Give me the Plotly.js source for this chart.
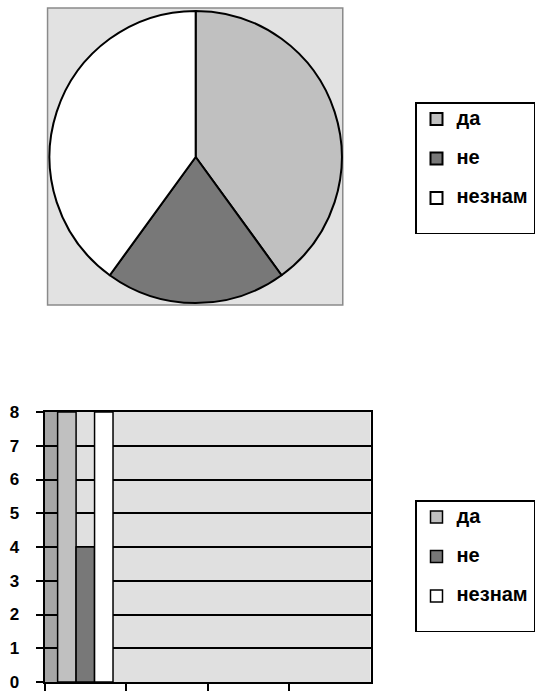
<!DOCTYPE html>
<html>
<head>
<meta charset="utf-8">
<script src="https://cdn.plot.ly/plotly-3.0.1.min.js"></script>
<style>
html,body{margin:0;padding:0;background:#fff;}
#chart{width:535px;height:693px;}
</style>
</head>
<body>
<div id="chart"></div>
<script>
// ---- data ----
const categories = ['да', 'не', 'незнам'];
const pieValues = [8, 4, 8];
const barValues = [8, 4, 8];
const xGroups = ['1', '2', '3', '4'];   // category slots on the bar chart x axis (no labels shown)
const yTicks = [0, 1, 2, 3, 4, 5, 6, 7, 8];

// ---- styles ----
const colors = ['#c0c0c0', '#787878', '#ffffff'];
const FONT = 'Liberation Sans, Arial, sans-serif';
const W = 535, H = 693;
const px = v => v / W;
const py = v => 1 - v / H;
const legendLabel = s => '<span style="font-size:20px">' + s + '</span><br> ';

const pie = {
  type: 'pie',
  labels: categories.map(legendLabel),
  values: pieValues,
  sort: false,
  direction: 'clockwise',
  rotation: 0,
  textinfo: 'none',
  hoverinfo: 'none',
  marker: {colors: colors, line: {color: '#000', width: 2}},
  domain: {x: [px(50), px(345)], y: [py(304.5), py(9.5)]},
  legend: 'legend'
};

const bars = categories.map((c, i) => ({
  type: 'bar',
  name: legendLabel(c),
  x: [xGroups[0]],
  y: [barValues[i]],
  marker: {color: colors[i], line: {color: '#000', width: 1.5}},
  hoverinfo: 'none',
  legend: 'legend2'
}));

const legendStyle = {
  xanchor: 'left', yanchor: 'top',
  bgcolor: '#ffffff', bordercolor: '#000', borderwidth: 1.5,
  font: {family: FONT, size: 14, color: '#000', weight: 'bold'},
  valign: 'top', traceorder: 'normal'
};

const layout = {
  width: W, height: H,
  margin: {l: 0, r: 0, t: 0, b: 0},
  paper_bgcolor: '#ffffff',
  plot_bgcolor: '#e0e0e0',
  font: {family: FONT, color: '#000'},
  showlegend: true,
  barmode: 'group',
  bargap: 0.32,
  bargroupgap: 0,
  xaxis: {
    domain: [px(45), px(374)],
    type: 'category',
    categoryorder: 'array',
    categoryarray: xGroups,
    range: [-0.5, 3.5],
    tickson: 'boundaries',
    ticks: 'outside', ticklen: 7, tickwidth: 2, tickcolor: '#000',
    showticklabels: false,
    showgrid: false,
    showline: true, linecolor: '#000', linewidth: 2, mirror: true,
    zeroline: false
  },
  yaxis: {
    domain: [py(682), py(412)],
    range: [0, 8],
    tickmode: 'array',
    tickvals: yTicks,
    ticktext: yTicks.map(String),
    ticks: 'outside', ticklen: 7, tickwidth: 2, tickcolor: '#000',
    ticklabelstandoff: 13,
    ticklabeloverflow: 'allow',
    tickfont: {family: FONT, size: 17, color: '#000', weight: 'bold'},
    showgrid: true, gridcolor: '#000', gridwidth: 2,
    showline: true, linecolor: '#000', linewidth: 2, mirror: true,
    zeroline: false
  },
  legend: Object.assign({x: px(419), y: py(102)}, legendStyle),
  legend2: Object.assign({x: px(419), y: py(500)}, legendStyle),
  shapes: [
    {type: 'rect', xref: 'paper', yref: 'paper', layer: 'below',
     x0: px(48), x1: px(346), y0: py(305), y1: py(8),
     fillcolor: '#e2e2e2', line: {color: '#8a8a8a', width: 1.5}},
    // side wall of the 3-D box
    {type: 'rect', xref: 'x domain', yref: 'y domain', layer: 'below',
     x0: 0, x1: 0.045, y0: 0, y1: 1,
     fillcolor: '#a6a6a6', line: {width: 0}}
  ]
};

Plotly.newPlot('chart', [pie].concat(bars), layout, {staticPlot: true, displayModeBar: false});
</script>
</body>
</html>
